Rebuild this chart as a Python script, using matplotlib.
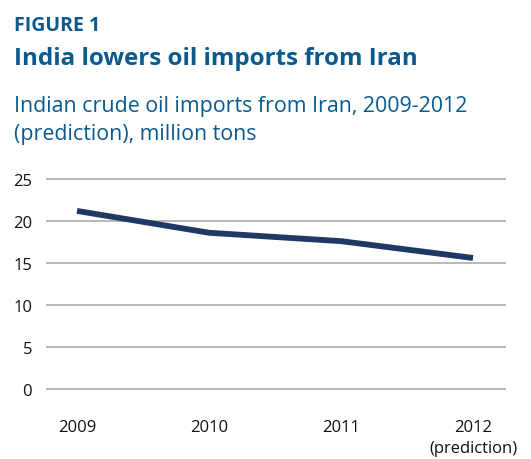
import matplotlib.pyplot as plt

years = ['2009', '2010', '2011', '2012\n(prediction)']
imports = [21.2, 18.6, 17.6, 15.6]
yticks = [0, 5, 10, 15, 20, 25]

teal = '#0b5a8e'
navy = '#1f3864'

plt.rcParams['font.family'] = ['Open Sans', 'DejaVu Sans']

W, H = 531, 460
fig = plt.figure(figsize=(W / 100, H / 100), dpi=100)

# axes placed in pixel terms so the gridlines line up with the reference
lo, hi = -0.25, 25.25
ppu = (390 - 180) / 25.0
ax_bot = 390 - lo * ppu
ax_top = 180 - (hi - 25) * ppu
ax = fig.add_axes([46 / W, 1 - ax_bot / H, (506 - 46) / W, (ax_bot - ax_top) / H])

x = list(range(len(years)))
ax.plot(x, imports, color=navy, lw=4.2, solid_capstyle='butt', zorder=3)

ax.set_xlim(-0.235, 3.25)
ax.set_ylim(lo, hi)
ax.set_yticks(yticks)
ax.set_xticks(x)
ax.set_xticklabels(years, linespacing=1.45)
ax.grid(axis='y', color='#a6a6a6', lw=1.1)
ax.set_axisbelow(True)
for s in ax.spines.values():
    s.set_visible(False)
ax.tick_params(axis='both', length=0, labelsize=12, colors='#111111')
ax.tick_params(axis='y', pad=10)
ax.tick_params(axis='x', pad=20)

fig.text(14 / W, 1 - 31 / H, 'FIGURE 1', color=teal, fontsize=14, fontweight='bold')
fig.text(14 / W, 1 - 65 / H, 'India lowers oil imports from Iran', color=teal,
         fontsize=17.4, fontweight='bold')
fig.text(14 / W, 1 - 112 / H, 'Indian crude oil imports from Iran, 2009-2012', color=teal,
         fontsize=15.4)
fig.text(14 / W, 1 - 140 / H, '(prediction), million tons', color=teal, fontsize=15.4)

fig.savefig('out.png', dpi=100)
